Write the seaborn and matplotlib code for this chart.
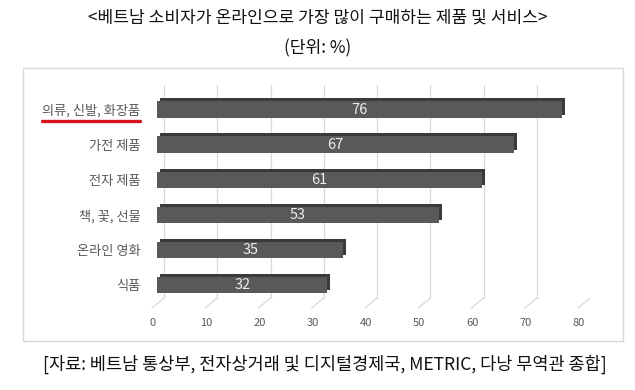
import pandas as pd
import matplotlib.pyplot as plt
import matplotlib.transforms as mtransforms
from matplotlib.patches import Rectangle
from matplotlib.lines import Line2D
import seaborn as sns

# 데이터
categories = ['의류, 신발, 화장품', '가전 제품', '전자 제품', '책, 꽃, 선물', '온라인 영화', '식품']
values = [76, 67, 61, 53, 35, 32]
xticks = [0, 10, 20, 30, 40, 50, 60, 70, 80]

title = '<베트남 소비자가 온라인으로 가장 많이 구매하는 제품 및 서비스>'
subtitle = '(단위: %)'
source = '[자료: 베트남 통상부, 전자상거래 및 디지털경제국, METRIC, 다낭 무역관 종합]'

df = pd.DataFrame({'품목': categories, '비율': values})

sns.set_style("white")
plt.rcParams['font.family'] = ['Noto Sans CJK KR', 'DejaVu Sans']

fig = plt.figure(figsize=(6.35, 3.9), dpi=100)
ax = fig.add_axes([157 / 635, 1 - 299 / 390, 426 / 635, 214 / 390])

sns.barplot(x='비율', y='품목', data=df, color='#595959', width=0.48,
            saturation=1, linewidth=0, ax=ax, zorder=3)

# 3D 느낌: 어두운 막대를 오른쪽 위로 살짝 밀어서 뒤에 깔기
off = mtransforms.ScaledTranslation(3 / 100, 3 / 100, fig.dpi_scale_trans)
for p in list(ax.patches):
    sh = Rectangle(p.get_xy(), p.get_width(), p.get_height(), facecolor='#3a3a3a',
                   linewidth=0, transform=ax.transData + off, zorder=2.5)
    ax.add_patch(sh)

# 막대 값 표시
for i, v in enumerate(values):
    ax.text(v / 2, i, str(v), ha='center', va='center', color='#eeeeee',
            fontsize=10.5, fontweight='light', zorder=4)

ax.set_xlim(0, 80)
ax.set_ylim(5.4, -0.71)
ax.set_xticks(xticks)
ax.set_xticklabels([str(t) for t in xticks], color='#595959', fontsize=8)
ax.tick_params(axis='x', length=0, pad=14)
ax.tick_params(axis='y', length=0, pad=12, labelsize=9.5, labelcolor='#595959')
ax.set_xlabel('')
ax.set_ylabel('')
for s in ax.spines.values():
    s.set_visible(False)

# 격자선 (뒷면이라 오른쪽으로 조금 밀림)
ax.grid(axis='x', color='#d9d9d9', linewidth=0.9, zorder=0)
ax.grid(axis='y', visible=False)
goff = mtransforms.ScaledTranslation(7 / 100, 0, fig.dpi_scale_trans)
for gl in ax.get_xgridlines():
    gl.set_transform(gl.get_transform() + goff)
lab_off = mtransforms.ScaledTranslation(-4 / 100, 0, fig.dpi_scale_trans)
for lb in ax.get_xticklabels():
    lb.set_transform(lb.get_transform() + lab_off)

# 바닥 사선
floor = mtransforms.blended_transform_factory(ax.transData, ax.transAxes)
for t in xticks:
    x_px, y_px = floor.transform((t, 0))
    fig.add_artist(Line2D([x_px + 7, x_px - 5], [y_px + 1, y_px - 9],
                          transform=mtransforms.IdentityTransform(),
                          color='#d9d9d9', linewidth=0.9))

# 바깥 테두리
fig.patches.append(Rectangle((23 / 635, 1 - 341 / 390), 600 / 635, 273 / 390,
                             transform=fig.transFigure, fill=False,
                             edgecolor='#d9d9d9', linewidth=1))

fig.text(0.5, 1 - 18 / 390, title, ha='center', va='center', fontsize=12.3, color='#111111')
fig.text(0.5, 1 - 48 / 390, subtitle, ha='center', va='center', fontsize=12.3, color='#111111')
fig.text(325 / 635, 1 - 364 / 390, source, ha='center', va='center', fontsize=12.6, color='#111111')

# 첫 번째 항목 빨간 밑줄
fig.canvas.draw()
bb = ax.get_yticklabels()[0].get_window_extent()
fig.add_artist(Line2D([bb.x0 / 635, bb.x1 / 635], [(bb.y0 - 3) / 390] * 2,
                      transform=fig.transFigure, color='#d7141e', linewidth=2.4,
                      solid_capstyle='round'))

plt.savefig('out.png', dpi=100)
plt.close()
